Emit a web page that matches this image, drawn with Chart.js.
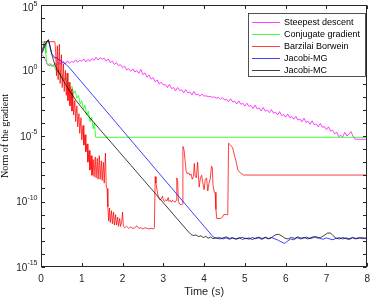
<!DOCTYPE html>
<html>
<head>
<meta charset="utf-8">
<script src="https://cdn.jsdelivr.net/npm/chart.js@4.4.1/dist/chart.umd.min.js"></script>
<style>
    html, body { margin: 0; padding: 0; background: #fff; }
    #wrap { width: 376px; height: 300px; }
</style>
</head>
<body>
<div id="wrap"><canvas id="chart"></canvas></div>
<script>
// Values are stored as log10 of the gradient norm.
const seriesNames = ['Steepest descent', 'Conjugate gradient', 'Barzilai Borwein', 'Jacobi-MG', 'Jacobi-MC'];
const seriesColors = ['#ff00ff', '#00ff00', '#ff0000', '#0000ff', '#000000'];

const xTicks = [0, 1, 2, 3, 4, 5, 6, 7, 8];
const yTickExponents = [-15, -14, -13, -12, -11, -10, -9, -8, -7, -6, -5, -4, -3, -2, -1, 0, 1, 2, 3, 4, 5];
const yLabelExponents = [5, 0, -5, -10, -15];

const sdTime = [0, 0.05, 0.1, 0.15, 0.2, 0.25, 0.3, 0.35, 0.4, 0.45, 0.5, 0.55, 0.6, 0.65, 0.7, 0.75, 0.8, 0.85, 0.9, 0.95,
    1, 1.05, 1.1, 1.15, 1.2, 1.25, 1.3, 1.35, 1.4, 1.45, 1.5, 1.55, 1.6, 1.65, 1.7, 1.75, 1.8, 1.85, 1.9, 1.95,
    2, 2.05, 2.1, 2.15, 2.2, 2.25, 2.3, 2.35, 2.4, 2.45, 2.5, 2.55, 2.6, 2.65, 2.7, 2.75, 2.8, 2.85, 2.9, 2.95,
    3, 3.05, 3.1, 3.15, 3.2, 3.25, 3.3, 3.35, 3.4, 3.45, 3.5, 3.55, 3.6, 3.65, 3.7, 3.75, 3.8, 3.85, 3.9, 3.95,
    4, 4.05, 4.1, 4.15, 4.2, 4.25, 4.3, 4.35, 4.4, 4.45, 4.5, 4.55, 4.6, 4.65, 4.7, 4.75, 4.8, 4.85, 4.9, 4.95,
    5, 5.05, 5.1, 5.15, 5.2, 5.25, 5.3, 5.35, 5.4, 5.45, 5.5, 5.55, 5.6, 5.65, 5.7, 5.75, 5.8, 5.85, 5.9, 5.95,
    6, 6.05, 6.1, 6.15, 6.2, 6.25, 6.3, 6.35, 6.4, 6.45, 6.5, 6.55, 6.6, 6.65, 6.7, 6.75, 6.8, 6.85, 6.9, 6.95,
    7, 7.05, 7.1, 7.15, 7.2, 7.25, 7.3, 7.35, 7.4, 7.45, 7.5, 7.55, 7.6, 7.65, 7.7, 8];
const sdLog = [1.30, 1.12, 0.86, 0.55, 0.36, 0.47, 0.30, 0.52, 0.44, 0.63, 0.46, 0.68, 0.50, 0.74, 0.56, 0.70, 0.62, 0.82, 0.64, 0.78,
    0.71, 0.88, 0.66, 0.84, 0.70, 0.92, 0.78, 1.00, 0.80, 0.98, 0.86, 0.94, 0.72, 0.88, 0.60, 0.72, 0.46, 0.60, 0.38, 0.44,
    0.22, 0.32, 0.05, 0.14, -0.06, 0.12, -0.12, 0.00, -0.22, 0.08, -0.32, -0.18, -0.52, -0.34, -0.66, -0.54, -0.86, -0.72, -1.04, -0.90,
    -1.10, -1.08, -1.30, -1.06, -1.38, -1.30, -1.56, -1.30, -1.52, -1.48, -1.70, -1.46, -1.70, -1.64, -1.86, -1.60, -1.86, -1.82, -1.96, -1.80,
    -1.96, -1.93, -1.99, -1.97, -2.05, -2.02, -2.11, -2.05, -2.19, -2.08, -2.24, -2.20, -2.38, -2.16, -2.40, -2.34, -2.56, -2.32, -2.58, -2.50,
    -2.72, -2.50, -2.74, -2.68, -2.90, -2.64, -2.92, -2.86, -3.08, -2.82, -3.10, -3.02, -3.22, -2.98, -3.26, -3.18, -3.40, -3.14, -3.44, -3.36,
    -3.56, -3.32, -3.60, -3.52, -3.72, -3.50, -3.78, -3.70, -3.92, -3.64, -3.96, -3.88, -4.10, -3.84, -4.14, -4.08, -4.30, -4.04, -4.34, -4.28,
    -4.52, -4.30, -4.62, -4.56, -4.84, -4.70, -5.04, -4.96, -5.06, -4.72, -5.00, -4.88, -4.66, -5.00, -5.24, -5.25];

const cgTime = [0, 0.05, 0.1, 0.12, 0.14, 0.18, 0.22, 0.26, 0.3, 0.34, 0.4, 0.44, 0.48, 0.52, 0.56, 0.6, 0.64, 0.68, 0.72, 0.76,
    0.8, 0.84, 0.88, 0.92, 0.96, 1, 1.04, 1.08, 1.12, 1.16, 1.2, 1.24, 1.28, 1.31, 1.34, 8];
const cgLog = [2.1, 2.2, 2.15, 1.3, 0.5, 0.35, 0.55, 0.3, 0.45, 0.2, -0.15, 0.05, -0.4, -0.3, -0.75, -0.55, -1.05, -0.95, -1.4, -1.2,
    -1.75, -1.55, -2.1, -1.9, -2.55, -2.3, -2.95, -2.65, -3.4, -3.1, -3.9, -3.55, -4.45, -4.0, -5.1, -5.1];

const bbTime = [0, 0.04, 0.08, 0.34, 0.36, 0.38, 0.4, 0.42, 0.45, 0.47, 0.5, 0.52, 0.55, 0.57, 0.6, 0.62, 0.64, 0.66, 0.69, 0.71,
    0.74, 0.76, 0.78, 0.8, 0.83, 0.85, 0.88, 0.9, 0.93, 0.95, 0.98, 1, 1.03, 1.05, 1.08, 1.1, 1.13, 1.15, 1.18, 1.2,
    1.23, 1.25, 1.28, 1.3, 1.33, 1.35, 1.38, 1.4, 1.43, 1.45, 1.48, 1.5, 1.53, 1.55, 1.58, 1.6, 1.62, 1.64, 1.66, 1.68,
    1.7, 1.73, 1.75, 1.78, 1.8, 1.83, 1.85, 1.88, 1.9, 1.93, 1.95, 1.98, 2, 2.02, 2.05, 2.1, 2.15, 2.2, 2.25, 2.3,
    2.35, 2.4, 2.45, 2.5, 2.55, 2.6, 2.65, 2.7, 2.76, 2.78, 2.8, 2.82, 2.85, 2.88, 2.92, 2.95, 2.98, 3, 3.03, 3.06,
    3.09, 3.12, 3.14, 3.17, 3.2, 3.23, 3.26, 3.29, 3.32, 3.33, 3.35, 3.37, 3.4, 3.44, 3.47, 3.48, 3.51, 3.54, 3.56, 3.59,
    3.62, 3.65, 3.68, 3.71, 3.74, 3.76, 3.78, 3.81, 3.84, 3.86, 3.88, 3.91, 3.94, 3.97, 4, 4.03, 4.06, 4.09, 4.12, 4.15,
    4.18, 4.2, 4.22, 4.25, 4.27, 4.29, 4.31, 4.4, 4.45, 4.48, 4.58, 4.6, 4.65, 4.7, 4.73, 4.78, 4.83, 4.9, 4.97, 8];
const bbLog = [1.2, 1.6, 2.2, 2.2, 1.4, -0.4, 1.9, -0.7, 2.0, -1.0, 1.2, -1.3, 0.5, -1.6, 0.0, -1.9, -0.2, -2.3, -0.9, -2.7,
    -1.4, -3.1, -1.7, -3.4, -2.3, -3.9, -2.7, -4.3, -3.3, -4.8, -3.6, -5.3, -4.2, -5.7, -4.9, -6.2, -5.6, -7.0, -6.1, -7.6,
    -6.5, -8.0, -6.8, -8.1, -6.6, -8.2, -6.7, -8.3, -6.5, -8.3, -6.9, -8.4, -7.0, -8.6, -6.3, -8.9, -9.0, -10.4, -11.5, -10.5,
    -11.6, -10.7, -11.7, -10.8, -11.8, -11.0, -11.8, -11.2, -11.9, -11.3, -11.9, -11.5, -10.8, -11.9, -12.0, -11.9, -12.05, -11.95, -12.05, -12.0,
    -11.85, -12.05, -12.0, -12.1, -12.0, -12.05, -12.1, -12.05, -12.1, -12.0, -8.1, -8.6, -9.2, -9.7, -9.9, -9.8, -9.6, -9.9, -10.0, -9.85,
    -9.95, -9.7, -10.0, -9.9, -10.05, -9.9, -10.0, -10.05, -9.9, -8.2, -8.4, -10.0, -10.2, -10.25, -10.2, -5.8, -6.1, -7.1, -7.7, -7.9,
    -7.8, -8.0, -7.9, -8.3, -8.1, -7.1, -8.0, -8.2, -7.0, -8.0, -8.9, -8.2, -8.0, -8.6, -9.1, -8.3, -8.2, -9.2, -8.6, -8.3,
    -7.3, -7.4, -8.8, -9.3, -9.3, -10.6, -11.3, -11.3, -11.2, -11.0, -11.0, -5.55, -5.7, -5.9, -6.3, -6.9, -7.6, -7.85, -7.98, -7.98];

const mgTime = [0, 0.05, 0.1, 0.15, 0.18, 0.22, 0.26, 0.3, 0.34, 0.38, 0.42, 0.46, 0.5, 0.55, 0.62, 0.7, 4.22,
    4.3, 4.38, 4.46, 4.54, 4.62, 4.7, 4.78, 4.86, 4.94, 5.02, 5.1, 5.18, 5.26, 5.34, 5.42, 5.5, 5.58, 5.66, 5.74,
    5.82, 5.9, 5.97, 6.05, 6.12, 6.2, 6.28, 6.36, 6.44, 6.52, 6.6, 6.68, 6.76, 6.84, 6.92, 7, 7.08, 7.16, 7.24,
    7.32, 7.4, 7.48, 7.56, 7.64, 7.72, 7.8, 7.88, 7.96, 8];
const mgLog = [1.45, 1.7, 2.0, 2.25, 2.33, 1.8, 1.3, 1.15, 0.95, 0.98, 0.85, 0.8, 0.7, 0.6, 0.45, 0.2, -12.7,
    -12.82, -12.74, -12.86, -12.78, -12.88, -12.8, -12.86, -12.76, -12.9, -12.8, -12.88, -12.74, -12.84, -12.78, -12.9, -12.72, -12.82, -12.76, -12.86,
    -12.96, -13.1, -13.2, -13.02, -12.86, -12.92, -12.76, -12.86, -12.8, -12.72, -12.84, -12.76, -12.68, -12.82, -12.88, -12.78, -12.86, -12.92, -12.8,
    -12.86, -12.74, -12.84, -12.9, -12.78, -12.86, -12.8, -12.74, -12.84, -12.8];

const mcTime = [0, 0.05, 0.1, 0.15, 0.18, 0.22, 0.26, 0.3, 0.34, 0.4, 0.5, 0.6, 0.7, 0.85, 1, 1.18, 3.62,
    3.68, 3.74, 3.8, 3.86, 3.92, 3.98, 4.04, 4.1, 4.16, 4.22, 4.3, 4.38, 4.46, 4.54, 4.62, 4.7, 4.78, 4.86, 4.94,
    5.02, 5.1, 5.18, 5.26, 5.34, 5.42, 5.5, 5.58, 5.66, 5.74, 5.82, 5.9, 5.98, 6.06, 6.14, 6.22, 6.3, 6.38, 6.46,
    6.54, 6.62, 6.7, 6.78, 6.86, 6.94, 7.02, 7.1, 7.16, 7.24, 7.32, 7.4, 7.48, 7.56, 7.64, 7.72, 7.8, 7.88, 7.96, 8];
const mcLog = [1.2, 1.5, 1.9, 2.2, 2.35, 1.9, 1.3, 0.85, 0.45, 0.05, -0.5, -1.05, -1.55, -2.25, -2.85, -3.55, -12.33,
    -12.52, -12.6, -12.55, -12.68, -12.62, -12.75, -12.66, -12.8, -12.72, -12.84, -12.76, -12.86, -12.78, -12.7, -12.82, -12.76, -12.88, -12.8, -12.74,
    -12.84, -12.78, -12.9, -12.8, -12.72, -12.82, -12.76, -12.86, -12.74, -12.56, -12.5, -12.62, -12.8, -12.86, -12.74, -12.82, -12.7, -12.8, -12.74,
    -12.86, -12.76, -12.68, -12.8, -12.74, -12.6, -12.42, -12.4, -12.6, -12.82, -12.76, -12.86, -12.78, -12.84, -12.74, -12.82, -12.76, -12.84, -12.78, -12.8];

const AXIS_COLOR = '#262626';
const SANS = "'Liberation Sans', Arial, sans-serif";
const SERIF = "'Liberation Serif', 'Times New Roman', serif";

function toPoints(times, logs) {
    return times.map((t, i) => ({ x: t, y: Math.pow(10, logs[i]) }));
}

const seriesData = [
    toPoints(sdTime, sdLog),
    toPoints(cgTime, cgLog),
    toPoints(bbTime, bbLog),
    toPoints(mgTime, mgLog),
    toPoints(mcTime, mcLog)
];

/**
 * Box, inward ticks, superscript y labels and the legend, drawn the MATLAB way
 */
const matlabAxes = {
    id: 'matlabAxes',
    afterDatasetsDraw(chart) {
        const { ctx, chartArea: a, scales } = chart;
        const L = Math.round(a.left) + 0.5, R = Math.round(a.right) - 0.5;
        const T = Math.round(a.top) + 0.5, B = Math.round(a.bottom) - 0.5;
        const tick = 3.5;

        ctx.save();
        ctx.strokeStyle = AXIS_COLOR;
        ctx.lineWidth = 1;
        ctx.strokeRect(L, T, R - L, B - T);

        ctx.beginPath();
        xTicks.forEach(v => {
            const x = Math.round(scales.x.getPixelForValue(v)) + 0.5;
            ctx.moveTo(x, B); ctx.lineTo(x, B - tick);
            ctx.moveTo(x, T); ctx.lineTo(x, T + tick);
        });
        yTickExponents.forEach(e => {
            const y = Math.round(scales.y.getPixelForValue(Math.pow(10, e))) + 0.5;
            ctx.moveTo(L, y); ctx.lineTo(L + tick, y);
            ctx.moveTo(R, y); ctx.lineTo(R - tick, y);
        });
        ctx.stroke();

        // y labels: 10 with a raised exponent (top one nudged down so it stays on the canvas)
        ctx.fillStyle = AXIS_COLOR;
        yLabelExponents.forEach(e => {
            let y = scales.y.getPixelForValue(Math.pow(10, e));
            if (e === 5) y += 2.5;
            const right = L - 4;
            ctx.font = '7px ' + SANS;
            const expText = String(e);
            const ew = ctx.measureText(expText).width;
            ctx.textAlign = 'left';
            ctx.textBaseline = 'alphabetic';
            ctx.fillText(expText, right - ew, y - 2);
            ctx.font = '10px ' + SANS;
            ctx.textAlign = 'right';
            ctx.textBaseline = 'middle';
            ctx.fillText('10', right - ew, y + 1);
        });

        // legend
        const box = { x: 248.5, y: 13.5, w: 117, h: 63 };
        ctx.fillStyle = '#fff';
        ctx.fillRect(box.x, box.y, box.w, box.h);
        ctx.strokeStyle = AXIS_COLOR;
        ctx.lineWidth = 0.8;
        ctx.strokeRect(box.x, box.y, box.w, box.h);
        ctx.font = '9px ' + SANS;
        ctx.textAlign = 'left';
        ctx.textBaseline = 'middle';
        chart.data.datasets.forEach((ds, i) => {
            const y = 22.5 + i * 12;
            ctx.strokeStyle = ds.borderColor;
            ctx.lineWidth = ds.borderWidth;
            ctx.beginPath();
            ctx.moveTo(252, y);
            ctx.lineTo(280, y);
            ctx.stroke();
            ctx.fillStyle = '#000';
            ctx.fillText(ds.label, 284, y + 0.5);
        });
        ctx.restore();
    }
};

document.addEventListener('DOMContentLoaded', function() {
    const ctx = document.getElementById('chart').getContext('2d');

    const datasets = seriesNames.map((name, i) => ({
        label: name,
        data: seriesData[i],
        borderColor: seriesColors[i],
        borderWidth: 0.75,
        pointRadius: 0,
        tension: 0,
        fill: false,
        order: seriesNames.length - i
    }));

    new Chart(ctx, {
        type: 'line',
        data: { datasets: datasets },
        plugins: [matlabAxes],
        options: {
            responsive: true,
            maintainAspectRatio: false,
            animation: false,
            parsing: false,
            layout: { padding: { top: 5, right: 4, left: 0, bottom: 0 } },
            plugins: {
                legend: { display: false },
                tooltip: { enabled: false }
            },
            scales: {
                x: {
                    type: 'linear',
                    min: 0,
                    max: 8,
                    afterBuildTicks: scale => { scale.ticks = xTicks.map(v => ({ value: v })); },
                    afterFit: scale => { scale.height = 33; },
                    grid: { display: false, drawTicks: false },
                    border: { display: false },
                    ticks: {
                        color: AXIS_COLOR,
                        padding: 6,
                        maxRotation: 0,
                        font: { family: SANS, size: 10 }
                    },
                    title: {
                        display: true,
                        text: 'Time (s)',
                        color: AXIS_COLOR,
                        padding: { top: 0, bottom: 1.4 },
                        font: { family: SANS, size: 11 }
                    }
                },
                y: {
                    type: 'logarithmic',
                    min: 1e-15,
                    max: 1e5,
                    afterBuildTicks: scale => { scale.ticks = yTickExponents.map(e => ({ value: Math.pow(10, e) })); },
                    afterFit: scale => { scale.width = 41; },
                    grid: { display: false, drawTicks: false },
                    border: { display: false },
                    ticks: { display: false },
                    title: {
                        display: true,
                        text: 'Norm of the gradient',
                        color: '#000',
                        padding: { top: -1, bottom: 0 },
                        font: { family: SERIF, size: 10 }
                    }
                }
            }
        }
    });
});
</script>
</body>
</html>
